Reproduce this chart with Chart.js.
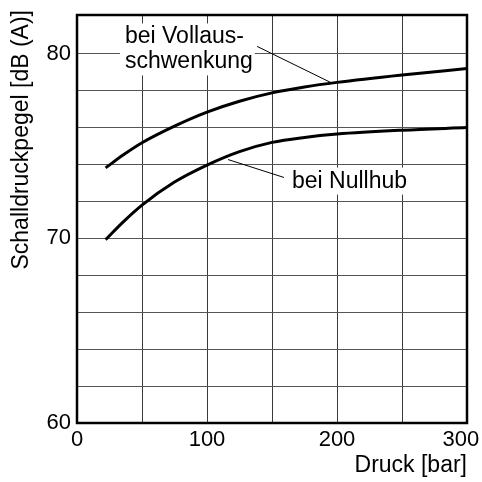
<!DOCTYPE html>
<html>
<head>
<meta charset="utf-8">
<script src="https://cdn.jsdelivr.net/npm/chart.js@4/dist/chart.umd.min.js"></script>
<style>
  html, body { margin: 0; padding: 0; background: #fff; }
  #wrap { width: 482px; height: 482px; }
</style>
</head>
<body>
<div id="wrap"><canvas id="c" width="482" height="482"></canvas></div>
<script>
// Druck in bar
const pressure = [22, 36, 50, 75, 100, 125, 150, 175, 200, 250, 300];
// Schalldruckpegel in dB (A)
const levelFullSwing = [73.82, 74.54, 75.18, 76.08, 76.84, 77.43, 77.88, 78.2, 78.45, 78.85, 79.2];
const levelZeroStroke = [69.93, 70.92, 71.8, 73.05, 73.97, 74.7, 75.2, 75.47, 75.65, 75.86, 76.0];

const xLabels = { 0: '0', 100: '100', 200: '200', 300: '300\u2007' };
const yLabels = { 60: '60', 70: '70', 80: '80' };

const FONT = 'Liberation Sans, Arial, Helvetica, sans-serif';

function points(values) {
  return pressure.map((p, i) => ({ x: p, y: values[i] }));
}

// Beschriftungen mit Hinweislinien, in Datenkoordinaten
const notes = [
  { lines: ['bei Vollaus-', 'schwenkung'], x: 36.9, y: 80.56, lead: [[138.5, 80.4], [195, 78.45]] },
  { lines: ['bei Nullhub'], x: 165.4, y: 72.75, lead: [[116.2, 74.27], [159.2, 73.3]] }
];

const annotate = {
  id: 'annotate',
  beforeDatasetsDraw(chart) {
    const { ctx, scales: { x, y } } = chart;
    ctx.save();
    ctx.font = '23px ' + FONT;
    ctx.textBaseline = 'alphabetic';
    ctx.textAlign = 'left';
    notes.forEach(n => {
      const px = x.getPixelForValue(n.x);
      const py = y.getPixelForValue(n.y);
      const step = 25;
      const w = Math.max(...n.lines.map(t => ctx.measureText(t).width));
      ctx.fillStyle = '#fff';
      ctx.fillRect(px - 5, py - 20, w + 7, (n.lines.length - 1) * step + 27);
      ctx.fillStyle = '#000';
      n.lines.forEach((t, i) => ctx.fillText(t, px, py + i * step));
      ctx.strokeStyle = '#000';
      ctx.lineWidth = 1;
      ctx.beginPath();
      ctx.moveTo(x.getPixelForValue(n.lead[0][0]), y.getPixelForValue(n.lead[0][1]));
      ctx.lineTo(x.getPixelForValue(n.lead[1][0]), y.getPixelForValue(n.lead[1][1]));
      ctx.stroke();
    });
    ctx.restore();
  },
  afterDraw(chart) {
    const { ctx, chartArea: a } = chart;
    ctx.save();
    // Rahmen des Diagramms
    ctx.strokeStyle = '#000';
    ctx.lineWidth = 2.5;
    ctx.strokeRect(a.left, a.top, a.right - a.left, a.bottom - a.top);
    // Achsenbeschriftung links, senkrecht
    ctx.fillStyle = '#000';
    ctx.font = '23px ' + FONT;
    ctx.translate(22, 10);
    ctx.rotate(-Math.PI / 2);
    ctx.textAlign = 'right';
    ctx.textBaseline = 'middle';
    ctx.fillText('Schalldruckpegel [dB (A)]', 0, 0);
    ctx.restore();
  }
};

new Chart(document.getElementById('c'), {
  type: 'line',
  data: {
    datasets: [
      { data: points(levelFullSwing), borderColor: '#000', borderWidth: 3, pointRadius: 0, cubicInterpolationMode: 'monotone', fill: false },
      { data: points(levelZeroStroke), borderColor: '#000', borderWidth: 3, pointRadius: 0, cubicInterpolationMode: 'monotone', fill: false }
    ]
  },
  options: {
    responsive: false,
    animation: false,
    events: [],
    layout: { padding: { top: 15, right: 15, left: 0, bottom: 0 } },
    plugins: { legend: { display: false }, tooltip: { enabled: false } },
    scales: {
      x: {
        type: 'linear',
        min: 0, max: 300,
        border: { display: false },
        grid: { color: '#3a3a3a', lineWidth: 1, drawTicks: false },
        ticks: {
          stepSize: 50, padding: 4, maxRotation: 0, autoSkip: false,
          color: '#000', font: { family: FONT, size: 22 },
          callback: v => xLabels[v] !== undefined ? xLabels[v] : ''
        },
        title: {
          display: true, text: 'Druck [bar]', align: 'end', color: '#000',
          font: { family: FONT, size: 23 }, padding: { top: 0, bottom: 3 }
        },
        afterFit(s) { s.height = 59; s.paddingLeft = 0; s.paddingRight = 0; }
      },
      y: {
        type: 'linear',
        min: 60, max: 82.1,
        border: { display: false },
        grid: { color: '#555', lineWidth: 1, drawTicks: false },
        ticks: {
          stepSize: 2, padding: 6, autoSkip: false,
          color: '#000', font: { family: FONT, size: 22 },
          callback: v => yLabels[v] !== undefined ? yLabels[v] : ''
        },
        afterFit(s) { s.width = 77; s.paddingTop = 0; s.paddingBottom = 0; }
      }
    }
  },
  plugins: [annotate]
});
</script>
</body>
</html>
